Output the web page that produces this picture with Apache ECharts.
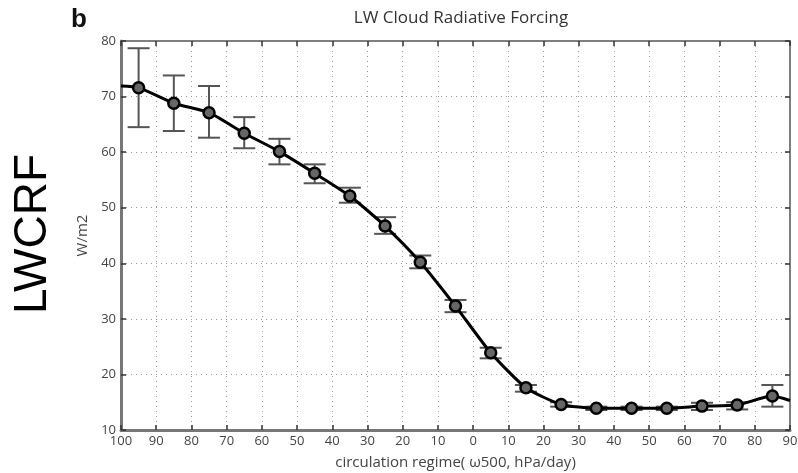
<!DOCTYPE html>
<html>
<head>
<meta charset="utf-8">
<script src="https://cdn.jsdelivr.net/npm/echarts@6/dist/echarts.min.js"></script>
<style>
  html, body { margin: 0; padding: 0; background: #fff; }
  #chart { width: 798px; height: 473px; }
</style>
</head>
<body>
<div id="chart"></div>
<script>
// Circulation regime bins (omega500, hPa/day) and the composite LW cloud radiative forcing
const omega   = [-95, -85, -75, -65, -55, -45, -35, -25, -15, -5, 5, 15, 25, 35, 45, 55, 65, 75, 85];
const lwcrf   = [71.6, 68.8, 67.1, 63.4, 60.1, 56.2, 52.1, 46.7, 40.2, 32.3, 23.9, 17.6, 14.6, 13.9, 13.9, 13.9, 14.3, 14.5, 16.1];
const errLow  = [64.5, 63.8, 62.6, 60.7, 57.8, 54.4, 50.9, 45.3, 39.1, 31.2, 22.9, 16.9, 14.2, 13.6, 13.6, 13.6, 13.6, 13.7, 14.2];
const errHigh = [78.7, 73.8, 71.9, 66.3, 62.4, 57.8, 53.6, 48.3, 41.4, 33.4, 24.8, 18.1, 15.0, 14.2, 14.2, 14.2, 14.9, 15.0, 18.1];
// Curve continues to the axis limits beyond the outermost bins
const edgeOmega = [-100, 90];
const edgeValue = [71.9, 15.3];
const yTicks = [10, 20, 30, 40, 50, 60, 70, 80];

const curve = [[edgeOmega[0], edgeValue[0], false]]
  .concat(omega.map((w, i) => [w, lwcrf[i], true]))
  .concat([[edgeOmega[1], edgeValue[1], false]]);

const lineData = curve.map(p => ({
  value: [p[0], p[1]],
  symbol: p[2] ? 'circle' : 'none'
}));

const errData = omega.map((w, i) => [w, errLow[i], errHigh[i]]);

const axisTextColor = '#444';
const fontFam = '"Open Sans", "DejaVu Sans", sans-serif';

const chart = echarts.init(document.getElementById('chart'), null, { renderer: 'canvas' });

chart.setOption({
  animation: false,
  backgroundColor: '#fff',
  title: [
    {
      text: 'LW Cloud Radiative Forcing',
      left: 456, top: 5, textAlign: 'center',
      textStyle: { fontFamily: fontFam, fontSize: 17, fontWeight: 'normal', color: '#333' }
    },
    {
      text: 'b',
      left: 66, top: 2,
      textStyle: { fontFamily: '"Liberation Sans", Arial, sans-serif', fontSize: 26, fontWeight: 'bold', color: '#111' }
    }
  ],
  graphic: [
    {
      type: 'text',
      x: 33, y: 234,
      rotation: Math.PI / 2,
      style: {
        text: 'LWCRF',
        font: '46px "Liberation Sans", Arial, sans-serif',
        fill: '#000',
        align: 'center',
        verticalAlign: 'middle'
      }
    }
  ],
  grid: {
    left: 121, right: 8, top: 41, bottom: 43,
    containLabel: false,
    outerBoundsMode: 'none',
    show: true, borderColor: '#777', borderWidth: 1.5
  },
  xAxis: [
    {
      type: 'value', min: -100, max: 90, interval: 10,
      position: 'bottom',
      name: 'circulation regime( ω500, hPa/day)',
      nameLocation: 'middle', nameGap: 25,
      nameTextStyle: { fontFamily: fontFam, fontSize: 15, color: axisTextColor },
      axisLine: { show: true, onZero: false, lineStyle: { color: '#777', width: 3 } },
      axisTick: { show: true, inside: true, length: 5, lineStyle: { color: '#333', width: 1.5 } },
      axisLabel: {
        fontFamily: fontFam, fontSize: 13, color: axisTextColor, margin: 5,
        formatter: v => String(Math.abs(v))
      },
      splitLine: { show: true, lineStyle: { color: '#999', type: [1, 4], width: 1 } }
    },
    {
      type: 'value', min: -100, max: 90, interval: 10,
      position: 'top',
      axisLine: { show: true, onZero: false, lineStyle: { color: '#777', width: 1.5 } },
      axisTick: { show: true, inside: true, length: 5, lineStyle: { color: '#333', width: 1.5 } },
      axisLabel: { show: false },
      splitLine: { show: false }
    }
  ],
  yAxis: [
    {
      type: 'value', min: yTicks[0], max: yTicks[yTicks.length - 1], interval: 10,
      position: 'left',
      name: 'W/m2',
      nameLocation: 'middle', nameGap: 27, nameRotate: 90,
      nameTextStyle: { fontFamily: fontFam, fontSize: 15, color: axisTextColor },
      axisLine: { show: true, onZero: false, lineStyle: { color: '#777', width: 3 } },
      axisTick: { show: true, inside: true, length: 5, lineStyle: { color: '#333', width: 1.5 } },
      axisLabel: { fontFamily: fontFam, fontSize: 13, color: axisTextColor, margin: 5 },
      splitLine: { show: true, lineStyle: { color: '#999', type: [1, 4], width: 1 } }
    },
    {
      type: 'value', min: yTicks[0], max: yTicks[yTicks.length - 1], interval: 10,
      position: 'right',
      axisLine: { show: true, onZero: false, lineStyle: { color: '#777', width: 1.5 } },
      axisTick: { show: true, inside: true, length: 5, lineStyle: { color: '#333', width: 1.5 } },
      axisLabel: { show: false },
      splitLine: { show: false }
    }
  ],
  series: [
    {
      type: 'custom',
      name: 'spread',
      data: errData,
      z: 2,
      renderItem: function (params, api) {
        const x = api.value(0);
        const lo = api.coord([x, api.value(1)]);
        const hi = api.coord([x, api.value(2)]);
        const half = 11;
        const st = { stroke: '#555', lineWidth: 2 };
        return {
          type: 'group',
          children: [
            { type: 'line', shape: { x1: lo[0], y1: lo[1], x2: hi[0], y2: hi[1] }, style: st },
            { type: 'line', shape: { x1: lo[0] - half, y1: lo[1], x2: lo[0] + half, y2: lo[1] }, style: st },
            { type: 'line', shape: { x1: hi[0] - half, y1: hi[1], x2: hi[0] + half, y2: hi[1] }, style: st }
          ]
        };
      }
    },
    {
      type: 'line',
      name: 'LWCRF',
      data: lineData,
      z: 3,
      smooth: 0.2,
      symbolSize: 11,
      lineStyle: { color: '#000', width: 3 },
      itemStyle: { color: '#666', borderColor: '#000', borderWidth: 2.5 }
    }
  ]
});
</script>
</body>
</html>
